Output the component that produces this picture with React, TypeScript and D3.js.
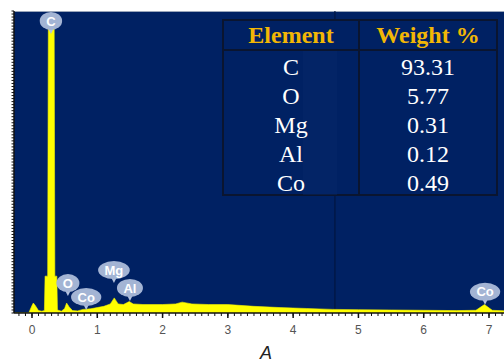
import * as d3 from 'd3'

// EDS spectrum (keV, counts)
const energies = [-0.28, -0.05, 0.0, 0.02, 0.05, 0.1, 0.15, 0.19, 0.2, 0.24, 0.25, 0.28, 0.34, 0.35, 0.38, 0.39, 0.45, 0.5, 0.53, 0.57, 0.62, 0.7, 0.78, 0.9, 1.0, 1.1, 1.2, 1.26, 1.32, 1.4, 1.49, 1.55, 1.7, 2.0, 2.2, 2.3, 2.45, 2.7, 3.0, 3.4, 3.8, 4.2, 4.6, 5.0, 5.5, 6.0, 6.5, 6.8, 6.93, 7.05, 7.25]
const counts = [0, 0, 25, 33, 25, 8, 6, 8, 122, 122, 940, 947, 940, 122, 122, 10, 6, 15, 33, 20, 8, 7, 12, 14, 18, 22, 30, 50, 30, 28, 38, 30, 28, 28, 30, 36, 30, 28, 28, 22, 18, 15, 12, 11, 10, 9, 8, 9, 28, 9, 7]

const xTicks = [0, 1, 2, 3, 4, 5, 6, 7]
const xLabel = 'A'

const peakNames = ['C', 'O', 'Co', 'Mg', 'Al', 'Co']
const peakEnergies = [0.29, 0.55, 0.83, 1.255, 1.5, 6.94]
const peakLevels = [967, 99, 53, 142, 83, 70]

const elements = ['C', 'O', 'Mg', 'Al', 'Co']
const weights = ['93.31', '5.77', '0.31', '0.12', '0.49']
const headers = ['Element', 'Weight %']

const cursorEnergy = 4.64

const W = 504
const H = 363
const top = 11
const bottom = 313

const x = d3.scaleLinear().domain([0, 7]).range([32, 489])
const y = d3.scaleLinear().domain([0, 1000]).range([bottom, bottom - 302])
const left = 14
const right = W

const NAVY = '#002163'

const charW: Record<string, number> = { C: 9.4, O: 10.1, o: 7.9, M: 10.8, g: 7.9, A: 9.4, l: 3.6 }
const textW = (s: string) => s.split('').reduce((a, c) => a + (charW[c] ?? 7.5), 0)

export default function App() {
  const area = d3
    .area<number>()
    .x((_, i) => x(energies[i]))
    .y0(y(0))
    .y1((d) => y(d))
    .curve(d3.curveLinear)

  const minor = d3.range(-2, 73).map((d) => d / 10)
  const yMinor = d3.range(0, 1001, 10)

  const tx0 = 223
  const tx1 = 497
  const tsplit = 359
  const ty0 = 20
  const thead = 50
  const rowH = 29

  return (
    <svg width={W} height={H} style={{ position: 'absolute', left: 0, top: 0, background: '#fff' }}>
      <defs>
        <clipPath id="plot">
          <rect x={left} y={top} width={right - left} height={bottom - top} />
        </clipPath>
      </defs>
      <rect x={left} y={top} width={right - left} height={bottom - top} fill={NAVY} />
      <line x1={left} x2={right} y1={top + 0.5} y2={top + 0.5} stroke="#9aa6ba" strokeWidth={1} />

      <g clipPath="url(#plot)">
        <line x1={x(cursorEnergy)} x2={x(cursorEnergy)} y1={top} y2={bottom} stroke="#001640" strokeWidth={1.2} />
        <path d={area(counts) ?? ''} fill="#ffff00" stroke="#f4f400" strokeWidth={0.6} />
      </g>

      {/* table */}
      <g>
        <rect x={tx0} y={ty0} width={tx1 - tx0} height={thead - ty0 + rowH * elements.length} fill={NAVY} stroke="#0a1530" strokeWidth={2} />
        <rect x={tx0 + 80} y={thead} width={34} height={rowH * elements.length} fill="#0a2a6c" opacity={0.35} />
        <line x1={tsplit} x2={tsplit} y1={ty0} y2={thead + rowH * elements.length} stroke="#0a1530" strokeWidth={2} />
        <line x1={tx0} x2={tx1} y1={thead} y2={thead} stroke="#0a1530" strokeWidth={2} />
        {headers.map((h, i) => (
          <text
            key={h}
            x={i === 0 ? (tx0 + tsplit) / 2 : (tsplit + tx1) / 2}
            y={ty0 + 23}
            textAnchor="middle"
            fontFamily="'Liberation Serif', 'Times New Roman', serif"
            fontWeight="bold"
            fontSize={24}
            fill="#f2b705"
          >
            {h}
          </text>
        ))}
        {elements.map((el, i) => (
          <g key={el} fontFamily="'Liberation Serif', 'Times New Roman', serif" fontSize={24} fill="#ffffff" textAnchor="middle">
            <text x={(tx0 + tsplit) / 2} y={thead + rowH * i + 25}>{el}</text>
            <text x={(tsplit + tx1) / 2} y={thead + rowH * i + 25}>{weights[i]}</text>
          </g>
        ))}
      </g>

      {/* peak bubbles */}
      {peakNames.map((n, i) => {
        const cx = x(peakEnergies[i])
        const cy = y(peakLevels[i])
        const rx = textW(n) / 2 + 6.5
        const ry = 9
        return (
          <g key={i}>
            <path d={`M${cx - 3},${cy + ry - 2} L${cx + 3},${cy + ry - 2} L${cx},${cy + ry + 4} Z`} fill="#b4c2de" />
            <ellipse cx={cx} cy={cy} rx={rx} ry={ry} fill="#a3b4d4" />
            <text
              x={cx}
              y={cy + 4.6}
              textAnchor="middle"
              fontFamily="'Liberation Sans', Arial, sans-serif"
              fontWeight="bold"
              fontSize={13}
              fill="#ffffff"
            >
              {n}
            </text>
          </g>
        )
      })}

      {/* left axis */}
      <line x1={left} x2={left} y1={top} y2={bottom} stroke="#111" strokeWidth={1.5} />
      {yMinor.map((v) => (
        <line key={v} x1={left - 2.5} x2={left} y1={y(v)} y2={y(v)} stroke="#111" strokeWidth={1} />
      ))}

      {/* bottom axis */}
      <line x1={left} x2={right} y1={bottom} y2={bottom} stroke="#111" strokeWidth={1.5} />
      {minor.map((v) => (
        <line key={v} x1={x(v)} x2={x(v)} y1={bottom} y2={bottom + 3} stroke="#111" strokeWidth={1} />
      ))}
      {xTicks.map((v) => (
        <g key={v}>
          <line x1={x(v)} x2={x(v)} y1={bottom} y2={bottom + 5} stroke="#111" strokeWidth={1.5} />
          <text x={x(v)} y={bottom + 21} textAnchor="middle" fontFamily="'Liberation Sans', Arial, sans-serif" fontSize={12} fill="#555">
            {v}
          </text>
        </g>
      ))}
      <text x={266} y={359} textAnchor="middle" fontFamily="'Liberation Sans', Arial, sans-serif" fontStyle="italic" fontSize={18} fill="#222">
        {xLabel}
      </text>
    </svg>
  )
}
